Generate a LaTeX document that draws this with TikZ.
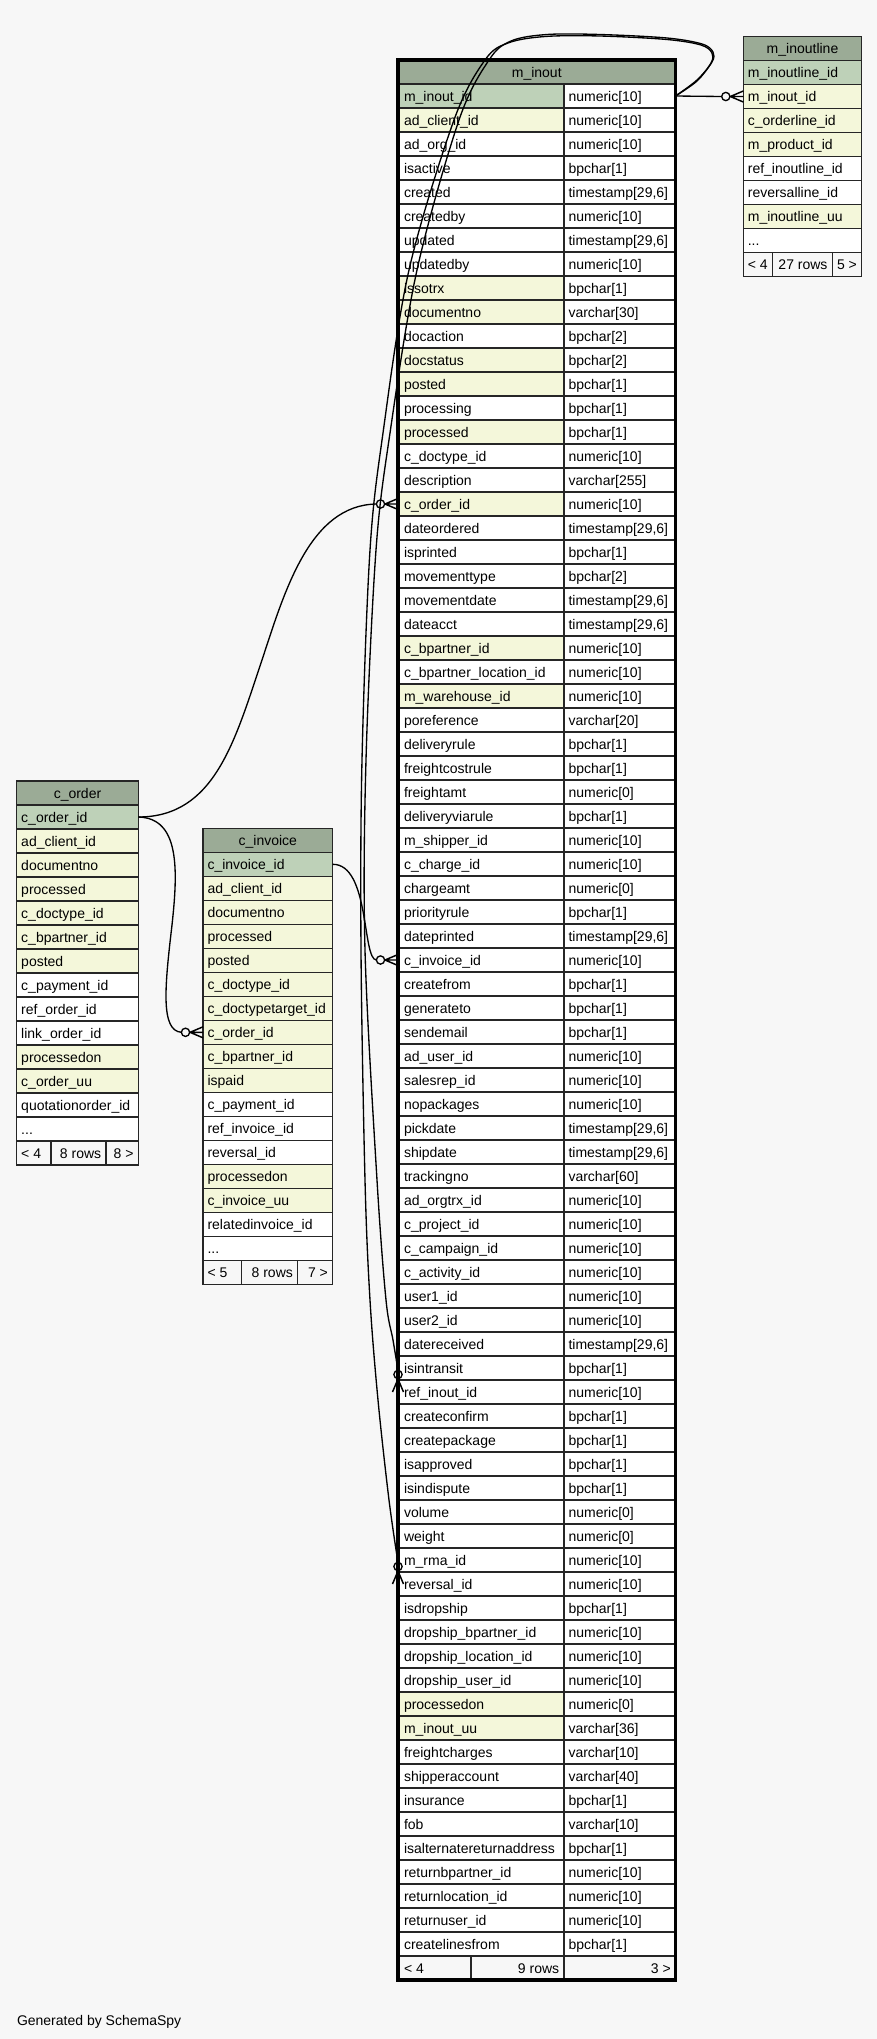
\documentclass[tikz,border=0pt]{standalone}
\usepackage{fontspec}
\setmainfont{Liberation Sans}
\definecolor{bgc}{HTML}{F7F7F7}
\definecolor{hdr}{HTML}{9BAB96}
\definecolor{pkc}{HTML}{BED1B8}
\definecolor{ixc}{HTML}{F4F7DA}
\tikzset{
  cellbox/.style={draw=black!85, line width=1.05pt, rectangle, inner sep=0pt, outer sep=0pt, minimum height=18pt, anchor=north west},
  lbl/.style={inner sep=0pt, outer sep=0pt, font=\fontsize{10.5pt}{12pt}\selectfont, text=black},
  edge/.style={draw=black, line width=1pt},
}
% name, x1, y1, x2, fill, text
\newcommand\tcell[6]{\node[cellbox, fill=#5, minimum width={(#4-(#2))*0.75pt}] (#1) at ({#2},{#3}) {};
  \node[lbl, anchor=base west] (#1-t) at ([xshift=3.4pt, yshift=-3.75pt]#1.west) {#6};}
\newcommand\tcellw[6]{\node[cellbox, fill=#5, minimum width={(#4-(#2))*0.75pt}] (#1) at ({#2},{#3}) {};
  \node[lbl, anchor=base west] (#1-t) at ([xshift=4.5pt, yshift=-3.75pt]#1.west) {#6};}
\newcommand\tcellr[6]{\node[cellbox, fill=#5, minimum width={(#4-(#2))*0.75pt}] (#1) at ({#2},{#3}) {};
  \node[lbl, anchor=base east] (#1-t) at ([xshift=-3.6pt, yshift=-3.75pt]#1.east) {#6};}
\newcommand\thead[6]{\node[cellbox, fill=#5, minimum width={(#4-(#2))*0.75pt}] (#1) at ({#2},{#3}) {};
  \node[lbl, anchor=base] (#1-t) at ([yshift=-3.75pt]#1.center) {#6};}
\newcommand\crowodot[2]{\begin{scope}[shift={(#1)}, rotate=#2]
  \draw[edge] (-17.5,0) circle[radius=3.1pt];
  \draw[edge, line width=1.1pt] (-13,0) -- (0,5.5) (-13,0) -- (0,0) (-13,0) -- (0,-5.5);
  \end{scope}}
\newcommand\tsx{timestamp[29,6]}
\newcommand\tdots{...}
\begin{document}
\begin{tikzpicture}[x=0.75pt, y=-0.75pt]
\fill[bgc] (0,0) rectangle (877,2039);
\useasboundingbox (0,0) rectangle (877,2039);

% ---------------- c_order
\thead{co-h}{16.7}{781}{138.3}{hdr}{c\_order}
\foreach \n/\f [count=\i from 0] in {c\_order\_id/pkc, ad\_client\_id/ixc, documentno/ixc, processed/ixc, c\_doctype\_id/ixc, c\_bpartner\_id/ixc, posted/ixc, c\_payment\_id/white, ref\_order\_id/white, link\_order\_id/white, processedon/ixc, c\_order\_uu/ixc, quotationorder\_id/white, \tdots/white}
  {\tcell{co-\i}{16.7}{805+24*\i}{138.3}{\f}{\n}}
\tcell{co-f1}{16.7}{1141}{51}{bgc}{< 4}
\tcellr{co-f2}{51}{1141}{106}{bgc}{8 rows}
\tcellr{co-f3}{106}{1141}{138.3}{bgc}{8 >}

% ---------------- c_invoice
\thead{ci-h}{203}{828.3}{332.7}{hdr}{c\_invoice}
\foreach \n/\f [count=\i from 0] in {c\_invoice\_id/pkc, ad\_client\_id/ixc, documentno/ixc, processed/ixc, posted/ixc, c\_doctype\_id/ixc, c\_doctypetarget\_id/ixc, c\_order\_id/ixc, c\_bpartner\_id/ixc, ispaid/ixc, c\_payment\_id/white, ref\_invoice\_id/white, reversal\_id/white, processedon/ixc, c\_invoice\_uu/ixc, relatedinvoice\_id/white, \tdots/white}
  {\tcell{ci-\i}{203}{852.3+24*\i}{332.7}{\f}{\n}}
\tcell{ci-f1}{203}{1260.3}{241.7}{bgc}{< 5}
\tcellr{ci-f2}{241.7}{1260.3}{297.7}{bgc}{8 rows}
\tcellr{ci-f3}{297.7}{1260.3}{332.7}{bgc}{7 >}

% ---------------- m_inoutline
\thead{mil-h}{743.3}{36.5}{861.7}{hdr}{m\_inoutline}
\foreach \n/\f [count=\i from 0] in {m\_inoutline\_id/pkc, m\_inout\_id/ixc, c\_orderline\_id/ixc, m\_product\_id/ixc, ref\_inoutline\_id/white, reversalline\_id/white, m\_inoutline\_uu/ixc, \tdots/white}
  {\tcell{mil-\i}{743.3}{60.5+24*\i}{861.7}{\f}{\n}}
\tcell{mil-f1}{743.3}{252.5}{772.7}{bgc}{< 4}
\tcellr{mil-f2}{772.7}{252.5}{832.3}{bgc}{27 rows}
\tcellr{mil-f3}{832.3}{252.5}{861.7}{bgc}{5 >}

% ---------------- m_inout
\thead{mi-h}{398}{60}{675.5}{hdr}{m\_inout}
\foreach \n/\f/\t [count=\i from 0] in {
 m\_inout\_id/pkc/numeric[10], ad\_client\_id/ixc/numeric[10], ad\_org\_id/white/numeric[10], isactive/white/bpchar[1],
 created/white/\tsx, createdby/white/numeric[10], updated/white/\tsx, updatedby/white/numeric[10],
 issotrx/ixc/bpchar[1], documentno/ixc/varchar[30], docaction/white/bpchar[2], docstatus/ixc/bpchar[2],
 posted/ixc/bpchar[1], processing/white/bpchar[1], processed/ixc/bpchar[1], c\_doctype\_id/white/numeric[10],
 description/white/varchar[255], c\_order\_id/ixc/numeric[10], dateordered/white/\tsx, isprinted/white/bpchar[1],
 movementtype/white/bpchar[2], movementdate/white/\tsx, dateacct/white/\tsx, c\_bpartner\_id/ixc/numeric[10],
 c\_bpartner\_location\_id/white/numeric[10], m\_warehouse\_id/ixc/numeric[10], poreference/white/varchar[20], deliveryrule/white/bpchar[1],
 freightcostrule/white/bpchar[1], freightamt/white/numeric[0], deliveryviarule/white/bpchar[1], m\_shipper\_id/white/numeric[10],
 c\_charge\_id/white/numeric[10], chargeamt/white/numeric[0], priorityrule/white/bpchar[1], dateprinted/white/\tsx,
 c\_invoice\_id/white/numeric[10], createfrom/white/bpchar[1], generateto/white/bpchar[1], sendemail/white/bpchar[1],
 ad\_user\_id/white/numeric[10], salesrep\_id/white/numeric[10], nopackages/white/numeric[10], pickdate/white/\tsx,
 shipdate/white/\tsx, trackingno/white/varchar[60], ad\_orgtrx\_id/white/numeric[10], c\_project\_id/white/numeric[10],
 c\_campaign\_id/white/numeric[10], c\_activity\_id/white/numeric[10], user1\_id/white/numeric[10], user2\_id/white/numeric[10],
 datereceived/white/\tsx, isintransit/white/bpchar[1], ref\_inout\_id/white/numeric[10], createconfirm/white/bpchar[1],
 createpackage/white/bpchar[1], isapproved/white/bpchar[1], isindispute/white/bpchar[1], volume/white/numeric[0],
 weight/white/numeric[0], m\_rma\_id/white/numeric[10], reversal\_id/white/numeric[10], isdropship/white/bpchar[1],
 dropship\_bpartner\_id/white/numeric[10], dropship\_location\_id/white/numeric[10], dropship\_user\_id/white/numeric[10], processedon/ixc/numeric[0],
 m\_inout\_uu/ixc/varchar[36], freightcharges/white/varchar[10], shipperaccount/white/varchar[40], insurance/white/bpchar[1],
 fob/white/varchar[10], isalternatereturnaddress/white/bpchar[1], returnbpartner\_id/white/numeric[10], returnlocation\_id/white/numeric[10],
 returnuser\_id/white/numeric[10], createlinesfrom/white/bpchar[1]}
  {\tcellw{mi-\i}{398}{84+24*\i}{564}{\f}{\n}
   \tcell{mit-\i}{564}{84+24*\i}{675.5}{white}{\t}}
\tcellw{mi-f1}{398}{1956}{471}{bgc}{< 4}
\tcellr{mi-f2}{471}{1956}{564}{bgc}{9 rows}
\tcellr{mi-f3}{564}{1956}{675.5}{bgc}{3 >}
\draw[line width=2.3pt] (mi-h.north west) rectangle (mi-f3.south east);

% ---------------- connectors
\draw[edge] (mit-0.east) -- ([xshift=-16.1pt]mil-1.west);
\crowodot{mil-1.west}{0}

\draw[edge] plot[smooth, tension=0.55] coordinates {(mit-0.east) (697,80) (712,62) (713,52) (702,44) (667,38) (600,34.5) (547,34.5) (511,41) (489,60) (459,120) (417,270) (390,433) (376,550) (366,760) (365,950) (377,1180) (386,1300) (393,1340) ([yshift=16.1pt]mi-54.west)};
\crowodot{mi-54.west}{-90}

\draw[edge] plot[smooth, tension=0.55] coordinates {(mit-0.east) (697,81) (711,63) (712,53) (701,45) (667,39.5) (600,36) (545,36.5) (508,43) (485,60) (454,120) (409,270) (383,433) (370,550) (362,760) (361,950) (365,1180) (370,1300) (378,1400) (389,1500) ([yshift=16.1pt]mi-62.west)};
\crowodot{mi-62.west}{-90}

\draw[edge] (co-0.east) .. controls (215,817) and (235,740) .. (262,660) .. controls (285,590) and (310,505) .. ([xshift=-16.1pt]mi-17.west);
\crowodot{mi-17.west}{0}

\draw[edge] (co-0.east) .. controls (180,818) and (178,870) .. (172,925) .. controls (165,985) and (160,1031) .. ([xshift=-16.1pt]ci-7.west);
\crowodot{ci-7.west}{0}

\draw[edge] (ci-0.east) .. controls (370,864) and (362,960) .. ([xshift=-16.1pt]mi-36.west);
\crowodot{mi-36.west}{0}

\node[lbl, anchor=base west] (gen) at (17,2025) {Generated by SchemaSpy};
\end{tikzpicture}
\end{document}
